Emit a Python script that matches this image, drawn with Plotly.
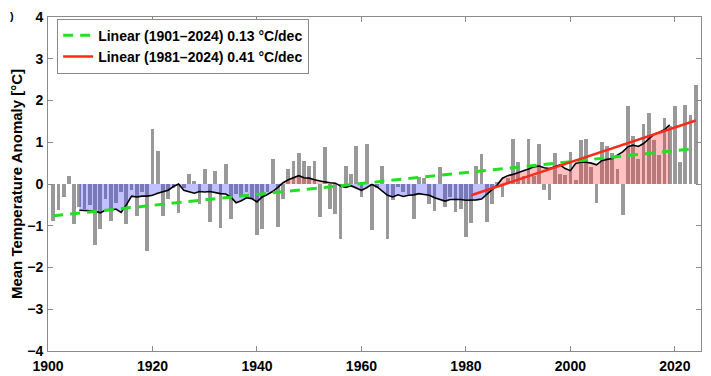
import plotly.graph_objects as go

# ---------------- data ----------------
years = list(range(1901, 2025))
anomaly = [
    -0.88, -0.63, -0.32, 0.20, -0.95, -0.55, -0.60, -0.50, -1.45, -1.08,   # 1901-1910
    -0.35, -0.89, -0.45, -0.20, -0.95, -0.15, -0.77, -0.20, -1.60, 1.32,   # 1911-1920
    0.80, -0.77, -0.35, -0.10, -0.69, -0.10, 0.23, 0.08, -0.48, 0.37,      # 1921-1930
    -0.92, 0.31, -1.05, 0.49, -0.85, -0.25, -0.30, -0.20, -0.35, -1.22,    # 1931-1940
    -1.08, -0.20, 0.60, -1.04, -0.35, 0.36, 0.54, 0.74, 0.56, 0.43,        # 1941-1950
    0.54, -0.78, 0.88, -0.61, -0.72, -1.32, 0.42, 0.23, 0.92, -0.31,       # 1951-1960
    0.97, -1.10, -0.10, 0.44, -1.32, -0.39, -0.08, -0.20, -0.25, -0.85,    # 1961-1970
    0.16, 0.15, -0.47, -0.64, 0.41, -0.56, -0.30, -0.68, -0.61, -1.28,     # 1971-1980
    -0.94, 0.44, 0.71, -0.92, -0.48, 0.05, -0.30, 0.15, 1.07, 0.53,        # 1981-1990
    0.18, 1.07, 0.18, 0.96, -0.15, -0.39, 0.75, 0.25, 0.22, 0.76,          # 1991-2000
    0.10, 1.05, 1.07, 0.40, -0.45, 1.00, 0.90, 0.75, 0.35, -0.74,          # 2001-2010
    1.86, 1.15, 0.61, 1.44, 1.71, 1.05, 0.70, 1.57, 1.38, 1.87,            # 2011-2020
    0.52, 1.90, 1.66, 2.37,                                                # 2021-2024
]

smooth_years = list(range(1906, 2020))
smooth = [
    -0.63, -0.63, -0.64, -0.65, -0.69, -0.63, -0.63, -0.60, -0.68, -0.50,  # 1906-1915
    -0.29, -0.31, -0.29, -0.29, -0.27, -0.22, -0.19, -0.15, -0.06, 0.00,   # 1916-1925
    -0.15, -0.19, -0.22, -0.18, -0.19, -0.18, -0.21, -0.23, -0.24, -0.31,  # 1926-1935
    -0.45, -0.40, -0.33, -0.35, -0.43, -0.31, -0.25, -0.18, -0.08, 0.03,   # 1936-1945
    0.10, 0.16, 0.20, 0.15, 0.14, 0.10, 0.07, 0.05, 0.03, 0.02,            # 1946-1955
    -0.05, -0.08, -0.04, -0.10, -0.15, -0.09, -0.01, -0.07, -0.17, -0.27,  # 1956-1965
    -0.31, -0.26, -0.30, -0.27, -0.26, -0.23, -0.25, -0.27, -0.33, -0.37,  # 1966-1975
    -0.41, -0.37, -0.37, -0.37, -0.39, -0.39, -0.38, -0.36, -0.25, -0.13,  # 1976-1985
    -0.02, 0.14, 0.20, 0.23, 0.28, 0.32, 0.36, 0.41, 0.43, 0.39,           # 1986-1995
    0.37, 0.42, 0.46, 0.37, 0.32, 0.49, 0.52, 0.52, 0.50, 0.46,            # 1996-2005
    0.56, 0.59, 0.61, 0.69, 0.77, 0.89, 0.93, 0.90, 0.97, 1.08,            # 2006-2015
    1.19, 1.24, 1.30, 1.42,                                                # 2016-2019
]

trend_all_years = [1901, 2024]
trend_all_values = [-0.76, 0.85]
trend_recent_years = [1981, 2024]
trend_recent_values = [-0.27, 1.52]

trend_all_label = "Linear (1901\u20132024) 0.13 \u00b0C/dec"
trend_recent_label = "Linear (1981\u20132024) 0.41 \u00b0C/dec"
y_title = "Mean Temperature Anomaly [\u00b0C]"

# ---------------- figure ----------------
# the page body has an 8 px margin, so the figure is sized to fit the 711x376 window
FONT = "Arial, Liberation Sans, sans-serif"
fig = go.Figure()

fig.add_trace(go.Bar(
    x=years, y=anomaly, width=0.72,
    marker=dict(color="#999999", line=dict(width=0)),
    showlegend=False, hoverinfo="skip",
))

neg = [min(v, 0) for v in smooth]
pos = [max(v, 0) for v in smooth]
fig.add_trace(go.Scatter(
    x=smooth_years, y=neg, mode="lines", line=dict(width=0),
    fill="tozeroy", fillcolor="rgba(50,50,255,0.30)",
    showlegend=False, hoverinfo="skip",
))
fig.add_trace(go.Scatter(
    x=smooth_years, y=pos, mode="lines", line=dict(width=0),
    fill="tozeroy", fillcolor="rgba(255,50,50,0.30)",
    showlegend=False, hoverinfo="skip",
))
fig.add_trace(go.Scatter(
    x=smooth_years, y=smooth, mode="lines",
    line=dict(color="black", width=1.6),
    showlegend=False, hoverinfo="skip",
))

fig.add_trace(go.Scatter(
    x=trend_all_years, y=trend_all_values, mode="lines",
    line=dict(color="#22e022", width=3, dash="10px,7px"),
    name=trend_all_label,
))
fig.add_trace(go.Scatter(
    x=trend_recent_years, y=trend_recent_values, mode="lines",
    line=dict(color="#ff2a1a", width=2.5),
    name=trend_recent_label,
))

axis_common = dict(
    showline=True, linecolor="#8a8a8a", linewidth=1, mirror="ticks",
    ticks="inside", ticklen=5, tickcolor="#8a8a8a",
    showgrid=False, zeroline=False, automargin=False,
    ticklabeloverflow="allow",
    tickfont=dict(family=FONT, size=14, color="black", weight="bold"),
)

fig.update_layout(
    width=703, height=368,
    margin=dict(l=40, r=10, t=9, b=25, autoexpand=False),
    plot_bgcolor="white", paper_bgcolor="white",
    bargap=0,
    xaxis=dict(range=[1900, 2025], tickvals=[1900, 1920, 1940, 1960, 1980, 2000, 2020],
               ticklabelstandoff=2, **axis_common),
    yaxis=dict(range=[-4, 4], dtick=1, ticklabelstandoff=1,
               title=dict(text=y_title, standoff=3,
                          font=dict(family=FONT, size=15, color="black", weight="bold")),
               **axis_common),
    legend=dict(
        x=0.014, y=0.995, xanchor="left", yanchor="top",
        bgcolor="white", bordercolor="#8a8a8a", borderwidth=1,
        font=dict(family=FONT, size=14, color="black", weight="bold"),
        tracegroupgap=0, itemwidth=30,
    ),
    annotations=[dict(text=")", xref="paper", yref="paper", x=-0.062, y=1.026,
                      xanchor="left", yanchor="top", showarrow=False,
                      font=dict(family=FONT, size=11, color="black", weight="bold"))],
)

fig.write_html("out.html")
